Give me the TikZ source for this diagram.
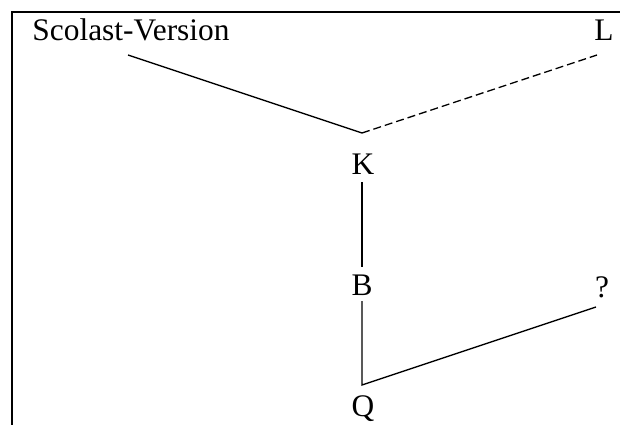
\documentclass[tikz,border=0pt]{standalone}
\usepackage{fontspec}
\setmainfont{Liberation Serif}
\begin{document}
\begin{tikzpicture}[x=1pt,y=-1pt,
  lbl/.style={inner sep=0pt,outer sep=0pt,anchor=base,font=\fontsize{31.4}{36}\selectfont},
  conn/.style={line width=1.3pt},
  dconn/.style={line width=1.3pt,dash pattern=on 8pt off 4pt}]
\useasboundingbox (0,0) rectangle (620,424);
\begin{scope}
\clip (0,0) rectangle (620,424);
\draw[line width=2.6pt] (12,460) -- (12,12) -- (660,12);
\end{scope}
\node[lbl] (sv) at (131,40) {Scolast-Version};
\node[lbl] (L) at (604,40) {L};
\node[lbl] (K) at (363,174) {K};
\node[lbl] (B) at (362,295) {B};
\node[lbl] (q) at (602,297) {?};
\node[lbl] (Q) at (363,416) {Q};
\coordinate (svend) at (128,55);
\coordinate (lend) at (597,55);
\coordinate (jk) at (362,133);
\coordinate (kbot) at (362,182);
\coordinate (btop) at (362,267);
\coordinate (bbot) at (362,301);
\coordinate (jq) at (362,385);
\coordinate (qend) at (596,307);
\draw[conn] (svend) -- (jk);
\draw[dconn] (jk) -- (lend);
\draw[conn] (kbot) -- (btop);
\draw[conn] (bbot) -- (jq) -- (qend);
\end{tikzpicture}
\end{document}
